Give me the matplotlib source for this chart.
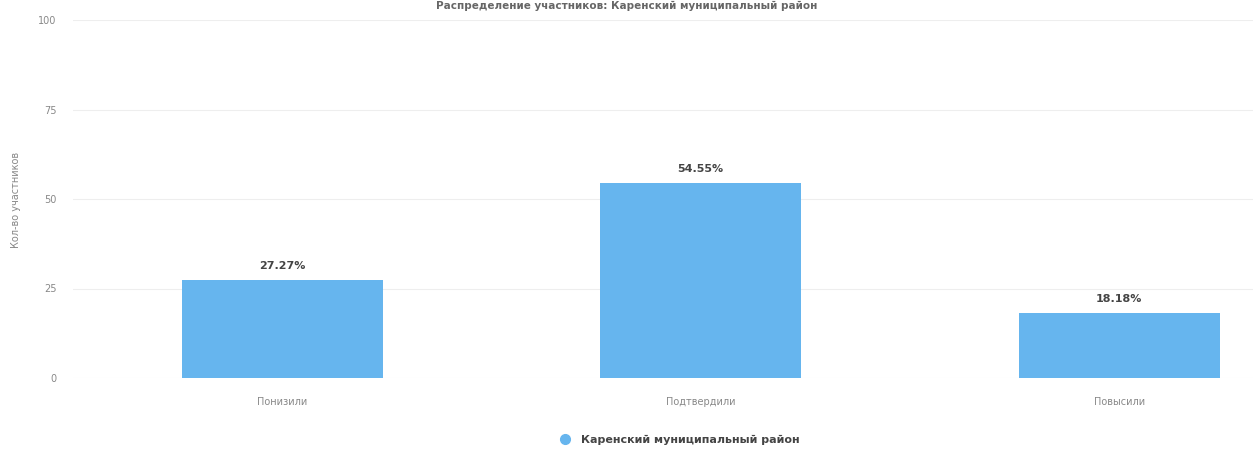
import matplotlib
matplotlib.use("Agg")
import matplotlib.pyplot as plt
from matplotlib.lines import Line2D

# данные с диаграммы
categories = ["Понизили", "Подтвердили", "Повысили"]
values = [27.27, 54.55, 18.18]
labels = ["27.27%", "54.55%", "18.18%"]
yticks = [0, 25, 50, 75, 100]
series_name = "Каренский муниципальный район"

bar_color = "#66b5ee"

fig = plt.figure(figsize=(12.53, 4.51), dpi=100)
ax = fig.add_axes([73 / 1253, 1 - 378 / 451, 1180 / 1253, 358 / 451])

x = range(len(categories))
ax.bar(x, values, width=0.48, color=bar_color, zorder=2)

for xi, v, lab in zip(x, values, labels):
    ax.text(xi, v + 2.5, lab, ha="center", va="bottom", fontsize=8,
            fontweight="bold", color="#444444")

ax.set_xlim(-0.5, 2.32)
ax.set_ylim(0, 100)
ax.set_yticks(yticks)
ax.set_xticks(list(x))
ax.set_xticklabels(categories, fontsize=7, color="#888888")
ax.tick_params(axis="y", labelsize=7, labelcolor="#888888", length=0, pad=12)
ax.tick_params(axis="x", length=0, pad=14)
ax.grid(axis="y", color="#eeeeee", linewidth=0.8, zorder=0)
for s in ax.spines.values():
    s.set_visible(False)

fig.text(16 / 1253, 1 - 200 / 451, "Кол-во участников", rotation=90,
         ha="center", va="center", fontsize=7, color="#888888")

# заголовок у самого верхнего края
fig.text(0.5, 0.998, "Распределение участников: Каренский муниципальный район",
         ha="center", va="top", fontsize=7.5, fontweight="bold", color="#666666")

handle = Line2D([], [], marker="o", linestyle="none", markersize=7,
                markerfacecolor=bar_color, markeredgecolor=bar_color)
fig.legend([handle], [series_name], loc="center", bbox_to_anchor=(0.54, 1 - 440 / 451),
           frameon=False, prop={"size": 8, "weight": "bold"}, handletextpad=0.4,
           labelcolor="#444444")

plt.savefig("out.png", dpi=100)
